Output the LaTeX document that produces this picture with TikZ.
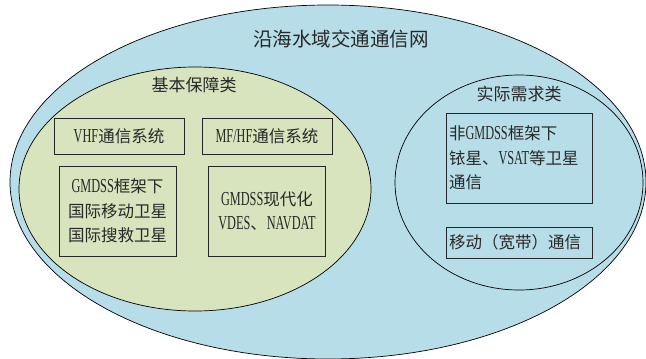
\documentclass[tikz,border=0pt]{standalone}
\usepackage{fontspec}
\setmainfont[FakeStretch=0.62,Scale=1.2]{Liberation Serif}
\newfontfamily\cjkfont{Noto Sans CJK SC}
\newcommand\zh[1]{{\cjkfont #1}}
\usetikzlibrary{shapes.geometric}
\definecolor{seablue}{RGB}{183,221,232}
\definecolor{olivegreen}{RGB}{215,228,189}
\definecolor{inkgray}{RGB}{40,40,40}
\begin{document}
\begin{tikzpicture}[x=1pt,y=-1pt,
  zone/.style={ellipse,draw=black,line width=0.7pt,inner sep=0pt},
  sysbox/.style={draw=black!85,line width=0.8pt,inner sep=2pt,text=inkgray,
    font=\fontsize{16.5}{24.5}\selectfont},
  lbl/.style={text=inkgray,font=\fontsize{17}{20}\selectfont,inner sep=0pt}]
\useasboundingbox (0,0) rectangle (646,359);
\clip (0,0) rectangle (646,359);
\node[zone,fill=seablue,minimum width=636,minimum height=354] (outer) at (328,182) {};
\node[zone,fill=olivegreen,minimum width=352,minimum height=244] (basic) at (195,189) {};
\node[zone,fill=seablue,minimum width=248,minimum height=215] (need) at (519,182.5) {};
\node[lbl,font=\fontsize{19.5}{22}\selectfont] (title) at (341,39) {\zh{沿海水域交通通信网}};
\node[lbl] (basiclbl) at (194,85) {\zh{基本保障类}};
\node[lbl] (needlbl) at (519,94) {\zh{实际需求类}};
\node[sysbox,minimum width=130,minimum height=36] (vhf) at (119,136) {VHF\zh{通信系统}};
\node[sysbox,minimum width=130,minimum height=36] (mfhf) at (267,136) {MF/HF\zh{通信系统}};
\node[sysbox,minimum width=117,minimum height=90,align=center] (gm1) at (117.5,211)
  {GMDSS\zh{框架下}\\\zh{国际移动卫星}\\\zh{国际搜救卫星}};
\node[sysbox,minimum width=117,minimum height=90,align=center] (gm2) at (267,211)
  {GMDSS\zh{现代化}\\VDES\zh{、}NAVDAT};
\node[sysbox,text width=140,inner xsep=3pt,minimum height=90,align=left] (ngm) at (519,158)
  {\zh{非}GMDSS\zh{框架下}\\\zh{铱星、}VSAT\zh{等卫星}\\\zh{通信}};
\node[sysbox,text width=140,inner xsep=3pt,minimum height=31,align=left] (mob) at (519,242.5)
  {\zh{移动（宽带）通信}};
\end{tikzpicture}
\end{document}
